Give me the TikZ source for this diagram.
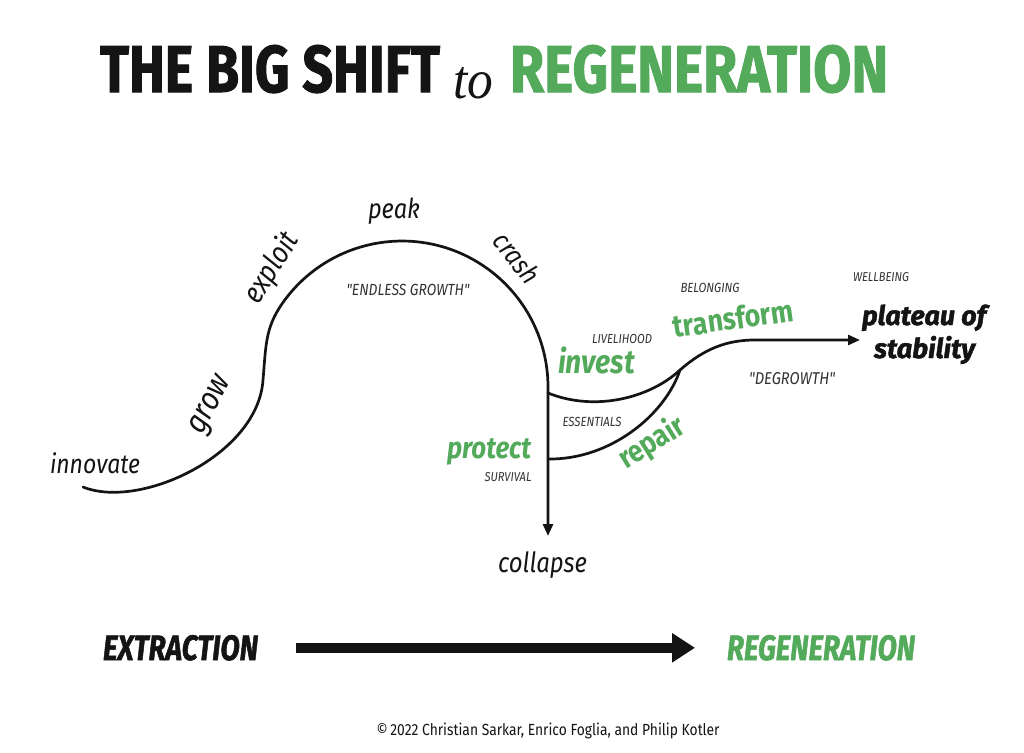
\documentclass[tikz,border=0pt]{standalone}
\usepackage{fontspec}
\setmainfont{Fira Sans}
\newfontfamily\cf[FakeStretch=0.86]{Fira Sans}
\newfontfamily\heavy[FakeBold=1.6]{Fira Sans}
\newfontfamily\serif{Liberation Serif}
\usetikzlibrary{arrows.meta}
\definecolor{rgreen}{RGB}{82,170,90}
\definecolor{ink}{RGB}{20,20,20}
\definecolor{soft}{RGB}{50,50,50}
\newcommand\hwfit[3]{\resizebox{#1pt}{#2pt}{#3}}
\newcommand\litw[2]{\resizebox{#1pt}{!}{\cf\itshape #2}}
\newcommand\bitw[2]{\resizebox{#1pt}{!}{\cf\bfseries\itshape #2}}
\newcommand\bupw[2]{\resizebox{#1pt}{!}{\cf\bfseries #2}}
\begin{document}
\begin{tikzpicture}[x=1pt,y=-1pt,inner sep=0pt,outer sep=0pt,
  curve/.style={line width=2.7pt,line cap=round,draw=ink},
  tipsmall/.style={-{Triangle[length=12pt,width=10pt]}},
  word/.style={text=ink},
  tag/.style={text=soft},
  gword/.style={text=rgreen}]
\useasboundingbox[fill=white] (0,0) rectangle (1024,752);

% title
\node[anchor=base west,word] (title1) at (100,92) {\hwfit{340}{47}{\heavy\bfseries THE BIG SHIFT}};
\node[anchor=base west,word] (to) at (453,98) {\hwfit{40}{31}{\serif\itshape to}};
\node[anchor=base west,gword] (title2) at (510,92) {\hwfit{378}{47}{\heavy\bfseries REGENERATION}};

% main curve
\coordinate (start) at (83,487);
\coordinate (infl) at (263,380);
\coordinate (arcstart) at (282.4,303.3);
\coordinate (fork) at (548,387);
\coordinate (downend) at (548,536);
\draw[curve,tipsmall] (start) .. controls (140,510) and (258,455) .. (infl)
  .. controls (266,345) and (265.2,327.9) .. (arcstart)
  arc[start angle=-145,end angle=0,radius=146] -- (downend);

% branches
\coordinate (investstart) at (548,393);
\coordinate (join) at (680,370);
\coordinate (flat) at (755,340);
\coordinate (plateauend) at (860,340);
\coordinate (repairstart) at (548,459);
\draw[curve,tipsmall] (investstart) .. controls (595,412) and (650,398) .. (join)
  .. controls (705,348) and (728,340) .. (flat) -- (plateauend);
\draw[curve] (repairstart) .. controls (610,460) and (665,415) .. (join);

% curve labels
\node[anchor=base west,word] (innovate) at (50,473) {\litw{90}{innovate}};
\node[word,rotate=62] (grow) at (212,406) {\litw{62}{grow}};
\node[word,rotate=58] (exploit) at (272,268) {\litw{78}{exploit}};
\node[anchor=base west,word] (peak) at (368,218) {\litw{52}{peak}};
\node[word,rotate=-52] (crash) at (517,258) {\litw{57}{crash}};
\node[tag] (endless) at (408,290) {\litw{123}{"ENDLESS GROWTH"}};
\node[anchor=base west,word] (collapse) at (498,572) {\litw{89}{collapse}};

% right part labels
\node[tag] (livelihood) at (622,339) {\litw{60}{LIVELIHOOD}};
\node[anchor=base west,gword] (invest) at (558,373) {\bitw{77}{invest}};
\node[tag] (belonging) at (710,288) {\litw{59}{BELONGING}};
\node[gword,rotate=8] (transform) at (733,318) {\bupw{121}{transform}};
\node[tag] (wellbeing) at (881,277) {\litw{56}{WELLBEING}};
\node[anchor=base west,word] (plateau) at (862,325) {\resizebox{124pt}{!}{\heavy\bfseries\itshape plateau of}};
\node[anchor=base west,word] (stability) at (874,358) {\resizebox{101pt}{!}{\heavy\bfseries\itshape stability}};
\node[tag] (degrowth) at (792,379) {\litw{86}{"DEGROWTH"}};
\node[tag] (essentials) at (592,422) {\litw{59}{ESSENTIALS}};
\node[anchor=base west,gword] (protect) at (447,458) {\bitw{84}{protect}};
\node[tag] (survival) at (508,477) {\litw{47}{SURVIVAL}};
\node[gword,rotate=32] (repair) at (652,443) {\bupw{72}{repair}};

% bottom
\node[anchor=base west,word] (extraction) at (103,660) {\hwfit{155}{25}{\heavy\bfseries\itshape EXTRACTION}};
\node[anchor=base west,gword] (regen) at (727,660) {\hwfit{188}{25}{\heavy\bfseries\itshape REGENERATION}};
\draw[draw=ink,line width=10pt,-{Triangle[length=23pt,width=28pt]}]
  ([xshift=38pt]extraction.east) -- ([xshift=-32pt]regen.west);
\node[text=ink] (copy) at (548,731) {\resizebox{343pt}{!}{\cf\fontsize{14}{14}\selectfont \textcopyright\,2022 Christian Sarkar, Enrico Foglia, and Philip Kotler}};
\end{tikzpicture}
\end{document}
